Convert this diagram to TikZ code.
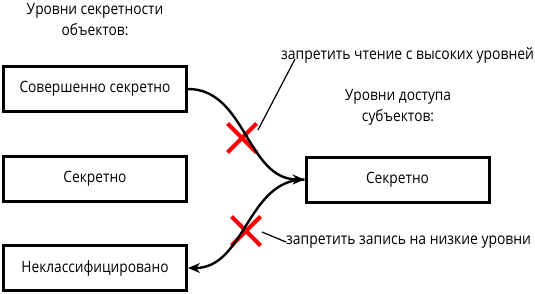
\documentclass[tikz,border=0pt]{standalone}
\usepackage{fontspec}
\setmainfont[FakeStretch=0.88]{Open Sans}
\usetikzlibrary{arrows.meta,shapes.misc}

\begin{document}
\begin{tikzpicture}[x=1pt,y=-1pt]
\tikzset{
  levelbox/.style={rectangle,draw,line width=3pt,minimum width=183pt,minimum height=45pt,inner sep=1pt,font=\fontsize{15.6}{18}\selectfont},
  heading/.style={align=center,inner sep=0pt,font=\fontsize{15.6}{21}\selectfont},
  note/.style={inner sep=0pt,font=\fontsize{15.8}{18}\selectfont},
  flow/.style={-{Stealth[length=12pt,width=10pt]},line width=2.4pt},
  banned/.style={cross out,draw=red,line width=4pt,minimum size=25pt,inner sep=0pt},
  pointer/.style={line width=1.2pt}
}
\useasboundingbox (0,0) rectangle (535,294);
\node[heading] (h_obj) at (95,19.5) {Уровни секретности\\объектов:};
\node[heading] (h_subj) at (398,107) {Уровни доступа\\субъектов:};
\node[levelbox] (n_top) at (95,89) {Совершенно секретно};
\node[levelbox] (n_sec) at (95,179) {Секретно};
\node[levelbox] (n_unc) at (95,268) {Неклассифицировано};
\node[levelbox] (n_subj) at (397.5,179.5) {Секретно};
\node[banned] (x_read) at (242,138) {};
\node[banned] (x_write) at (246,231) {};
\node[note,anchor=west] (lbl_read) at (281,55) {запретить чтение с высоких уровней};
\node[note,anchor=west] (lbl_write) at (286,242) {запретить запись на низкие уровни};
\coordinate (p_read) at (258,130);
\coordinate (p_write) at (262,232);
\draw[flow] (n_top.east) to[out=0,in=180] (n_subj.west);
\draw[flow] (n_subj.west) to[out=180,in=0] (n_unc.east);
\draw[pointer] ([xshift=14pt,yshift=4pt]lbl_read.south west) -- (p_read);
\draw[pointer] (lbl_write.west) -- (p_write);
\end{tikzpicture}
\end{document}
